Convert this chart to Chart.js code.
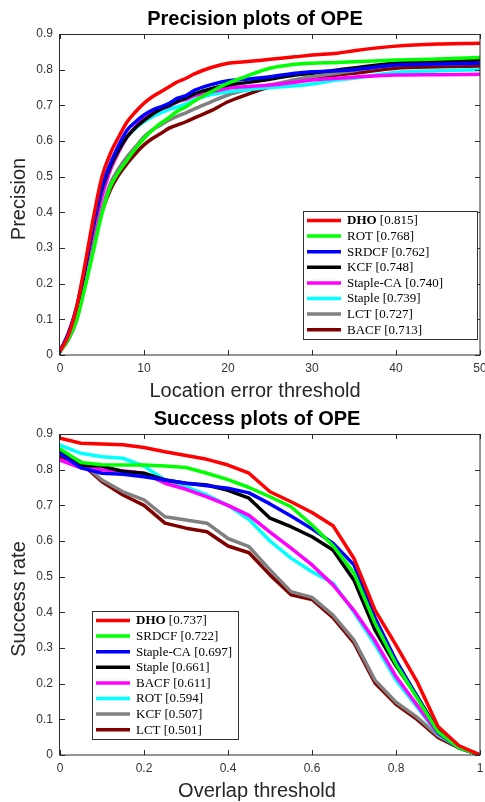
<!DOCTYPE html>
<html>
<head>
<meta charset="utf-8">
<script src="https://cdn.jsdelivr.net/npm/chart.js@4.4.1/dist/chart.umd.min.js"></script>
<style>
  html, body { margin: 0; padding: 0; background: #fff; }
  canvas { display: block; }
</style>
</head>
<body>
<canvas id="chartPrecision" width="485" height="400"></canvas>
<canvas id="chartSuccess" width="485" height="402"></canvas>
<script>
// ===============================
// DATA - precision plot
// ===============================
const precThresholds = [0, 1, 2, 3, 4, 5, 6, 7, 8, 9, 10, 11, 12, 13, 14, 15, 16, 18, 20, 22, 25, 28, 30, 33, 35, 40, 45, 50];
const precNames  = ["DHO", "ROT", "SRDCF", "KCF", "Staple-CA", "Staple", "LCT", "BACF"];
const precScores = ["0.815", "0.768", "0.762", "0.748", "0.740", "0.739", "0.727", "0.713"];

const precDHO      = [0.010, 0.056, 0.136, 0.257, 0.388, 0.500, 0.565, 0.612, 0.654, 0.682, 0.706, 0.724, 0.738, 0.752, 0.766, 0.776, 0.788, 0.806, 0.818, 0.822, 0.829, 0.836, 0.841, 0.846, 0.853, 0.866, 0.872, 0.874];
const precROT      = [0.010, 0.045, 0.100, 0.192, 0.294, 0.397, 0.472, 0.514, 0.547, 0.579, 0.607, 0.631, 0.650, 0.666, 0.684, 0.696, 0.712, 0.738, 0.762, 0.780, 0.804, 0.815, 0.818, 0.820, 0.822, 0.827, 0.830, 0.834];
const precSRDCF    = [0.010, 0.061, 0.136, 0.248, 0.369, 0.472, 0.537, 0.589, 0.631, 0.654, 0.673, 0.687, 0.696, 0.706, 0.720, 0.727, 0.742, 0.758, 0.769, 0.773, 0.780, 0.790, 0.794, 0.797, 0.800, 0.813, 0.816, 0.818];
const precKCF      = [0.010, 0.058, 0.130, 0.245, 0.365, 0.465, 0.528, 0.575, 0.612, 0.638, 0.658, 0.675, 0.690, 0.700, 0.712, 0.720, 0.732, 0.747, 0.757, 0.763, 0.773, 0.785, 0.790, 0.799, 0.805, 0.818, 0.823, 0.827];
const precStapleCA = [0.010, 0.060, 0.130, 0.240, 0.350, 0.444, 0.519, 0.570, 0.612, 0.640, 0.666, 0.679, 0.689, 0.698, 0.710, 0.717, 0.727, 0.738, 0.748, 0.752, 0.757, 0.765, 0.771, 0.776, 0.779, 0.785, 0.786, 0.787];
const precStaple   = [0.010, 0.061, 0.126, 0.238, 0.360, 0.463, 0.528, 0.579, 0.612, 0.636, 0.654, 0.668, 0.679, 0.689, 0.696, 0.704, 0.716, 0.730, 0.738, 0.743, 0.750, 0.755, 0.760, 0.771, 0.776, 0.792, 0.797, 0.800];
const precLCT      = [0.010, 0.042, 0.098, 0.201, 0.313, 0.407, 0.481, 0.523, 0.556, 0.584, 0.612, 0.631, 0.645, 0.659, 0.670, 0.679, 0.690, 0.710, 0.729, 0.742, 0.757, 0.772, 0.780, 0.790, 0.797, 0.813, 0.816, 0.818];
const precBACF     = [0.015, 0.051, 0.107, 0.206, 0.313, 0.402, 0.463, 0.505, 0.537, 0.565, 0.589, 0.607, 0.621, 0.636, 0.645, 0.654, 0.665, 0.685, 0.710, 0.728, 0.752, 0.768, 0.776, 0.785, 0.790, 0.804, 0.808, 0.810];
const precSeries = [precDHO, precROT, precSRDCF, precKCF, precStapleCA, precStaple, precLCT, precBACF];

// ===============================
// DATA - success plot
// ===============================
const succThresholds = [0, 0.05, 0.1, 0.15, 0.2, 0.25, 0.3, 0.35, 0.4, 0.45, 0.5, 0.55, 0.6, 0.65, 0.7, 0.75, 0.8, 0.85, 0.9, 0.95, 1];
const succNames  = ["DHO", "SRDCF", "Staple-CA", "Staple", "BACF", "ROT", "KCF", "LCT"];
const succScores = ["0.737", "0.722", "0.697", "0.661", "0.611", "0.594", "0.507", "0.501"];

const succDHO      = [0.888, 0.874, 0.872, 0.870, 0.862, 0.850, 0.840, 0.829, 0.813, 0.790, 0.738, 0.710, 0.680, 0.643, 0.551, 0.406, 0.308, 0.206, 0.080, 0.026, 0.0];
const succSRDCF    = [0.858, 0.820, 0.814, 0.813, 0.813, 0.810, 0.806, 0.790, 0.772, 0.750, 0.724, 0.696, 0.645, 0.587, 0.510, 0.370, 0.255, 0.160, 0.065, 0.020, 0.0];
const succStapleCA = [0.845, 0.805, 0.790, 0.787, 0.780, 0.771, 0.762, 0.755, 0.748, 0.735, 0.704, 0.670, 0.634, 0.594, 0.533, 0.385, 0.265, 0.165, 0.063, 0.020, 0.0];
const succStaple   = [0.852, 0.812, 0.810, 0.795, 0.790, 0.771, 0.762, 0.757, 0.742, 0.720, 0.664, 0.640, 0.612, 0.575, 0.490, 0.350, 0.250, 0.165, 0.068, 0.020, 0.0];
const succBACF     = [0.827, 0.805, 0.800, 0.797, 0.790, 0.762, 0.745, 0.724, 0.700, 0.672, 0.625, 0.580, 0.533, 0.477, 0.405, 0.320, 0.220, 0.140, 0.060, 0.022, 0.0];
const succROT      = [0.869, 0.846, 0.836, 0.832, 0.810, 0.771, 0.752, 0.729, 0.700, 0.660, 0.600, 0.552, 0.514, 0.482, 0.400, 0.310, 0.210, 0.135, 0.058, 0.020, 0.0];
const succKCF      = [0.852, 0.822, 0.771, 0.738, 0.715, 0.668, 0.659, 0.650, 0.607, 0.584, 0.519, 0.458, 0.442, 0.392, 0.322, 0.210, 0.148, 0.106, 0.054, 0.024, 0.0];
const succLCT      = [0.836, 0.818, 0.766, 0.729, 0.700, 0.650, 0.636, 0.626, 0.586, 0.567, 0.505, 0.449, 0.436, 0.385, 0.314, 0.202, 0.142, 0.100, 0.049, 0.020, 0.0];
const succSeries = [succDHO, succSRDCF, succStapleCA, succStaple, succBACF, succROT, succKCF, succLCT];

// ===============================
// STYLE
// ===============================
const trackerColors = {
  "DHO": "#ff0000",
  "ROT": "#00ff00",
  "SRDCF": "#0000ff",
  "KCF": "#000000",
  "Staple-CA": "#ff00ff",
  "Staple": "#00ffff",
  "LCT": "#808080",
  "BACF": "#800000"
};
const succColors = ["#ff0000", "#00ff00", "#0000ff", "#000000", "#ff00ff", "#00ffff", "#808080", "#800000"];

const SANS = '"Liberation Sans", Arial, Helvetica, sans-serif';
const SERIF = '"Liberation Serif", "Times New Roman", serif';
const AXIS_COLOR = "#2b2b2b";

// ===============================
// PLUGINS
// ===============================
// box around the plot + inward tick marks on all four sides
const framePlugin = {
  id: "frame",
  afterDatasetsDraw(chart) {
    const ctx = chart.ctx;
    const a = chart.chartArea;
    const xs = chart.scales.x, ys = chart.scales.y;
    const len = 5;
    ctx.save();
    ctx.strokeStyle = AXIS_COLOR;
    ctx.lineWidth = 1;
    ctx.strokeRect(Math.round(a.left) - 0.5, Math.round(a.top) + 0.5, Math.round(a.right - a.left) + 0.5, Math.round(a.bottom - a.top) - 0.5);
    ctx.beginPath();
    xs.ticks.forEach(t => {
      const px = Math.round(xs.getPixelForValue(t.value)) + 0.5;
      ctx.moveTo(px, a.bottom); ctx.lineTo(px, a.bottom - len);
      ctx.moveTo(px, a.top); ctx.lineTo(px, a.top + len);
    });
    ys.ticks.forEach(t => {
      const py = Math.round(ys.getPixelForValue(t.value)) + 0.5;
      ctx.moveTo(a.left, py); ctx.lineTo(a.left + len, py);
      ctx.moveTo(a.right, py); ctx.lineTo(a.right - len, py);
    });
    ctx.stroke();
    ctx.restore();
  }
};

// titles (the original is centered slightly left of the plot area)
const textPlugin = {
  id: "texts",
  afterDraw(chart, args, opts) {
    const ctx = chart.ctx;
    ctx.save();
    ctx.textAlign = "center";
    ctx.textBaseline = "alphabetic";
    ctx.fillStyle = "#000";
    ctx.font = "bold 20px " + SANS;
    ctx.fillText(opts.title, opts.centerX, 25);
    ctx.fillStyle = "#262626";
    ctx.font = "20px " + SANS;
    ctx.fillText(opts.xTitle, opts.centerX, 397);
    ctx.translate(25, 199);
    ctx.rotate(-Math.PI / 2);
    ctx.fillText(opts.yTitle, 0, 0);
    ctx.restore();
  }
};

// legend box inside the plot
const boxLegendPlugin = {
  id: "boxLegend",
  afterDraw(chart, args, opts) {
    const ctx = chart.ctx;
    const rowH = 15.6;
    ctx.save();
    ctx.fillStyle = "#fff";
    ctx.fillRect(opts.x, opts.y, opts.w, opts.h);
    ctx.strokeStyle = "#333";
    ctx.lineWidth = 1;
    ctx.strokeRect(opts.x + 0.5, opts.y + 0.5, opts.w, opts.h);
    chart.data.datasets.forEach((ds, i) => {
      const cy = opts.y + 9.5 + i * rowH;
      ctx.strokeStyle = ds.borderColor;
      ctx.lineWidth = 3.5;
      ctx.beginPath();
      ctx.moveTo(opts.x + 4, cy);
      ctx.lineTo(opts.x + 38, cy);
      ctx.stroke();
      ctx.fillStyle = "#000";
      ctx.textBaseline = "middle";
      ctx.textAlign = "left";
      let tx = opts.x + 44;
      if (i === 0) {
        ctx.font = "bold 13px " + SERIF;
        ctx.fillText(ds.label, tx, cy + 0.5);
        tx += ctx.measureText(ds.label).width;
        ctx.font = "13px " + SERIF;
        ctx.fillText(" [" + opts.scores[i] + "]", tx, cy + 0.5);
      } else {
        ctx.font = "13px " + SERIF;
        ctx.fillText(ds.label + " [" + opts.scores[i] + "]", tx, cy + 0.5);
      }
    });
    ctx.restore();
  }
};

// ===============================
// HELPERS
// ===============================
function fmtTick(v) {
  return String(Number(Number(v).toFixed(2)));
}

function buildDatasets(names, colors, series, xs, smooth) {
  return names.map((n, i) => ({
    label: n,
    data: xs.map((x, j) => ({ x: x, y: series[i][j] })),
    borderColor: colors[i],
    backgroundColor: colors[i],
    borderWidth: 3.5,
    pointRadius: 0,
    borderJoinStyle: "round",
    borderCapStyle: "round",
    cubicInterpolationMode: smooth ? "monotone" : "default",
    tension: 0
  }));
}

function axisOptions(max, step, height) {
  const tickFont = { family: SANS, size: 12 };
  return {
    x: {
      type: "linear", min: 0, max: max,
      ticks: { stepSize: step, padding: 6, color: "#333", font: tickFont, maxRotation: 0, callback: fmtTick },
      grid: { display: false, drawTicks: false },
      border: { display: false },
      afterFit(s) { s.height = height; s.paddingLeft = 0; s.paddingRight = 0; }
    },
    y: {
      type: "linear", min: 0, max: 0.9,
      ticks: { stepSize: 0.1, padding: 7, color: "#333", font: tickFont, callback: fmtTick },
      grid: { display: false, drawTicks: false },
      border: { display: false },
      afterFit(s) { s.width = 60; }
    }
  };
}

function makeChart(id, datasets, scales, texts, legendOpts) {
  return new Chart(document.getElementById(id), {
    type: "line",
    data: { datasets: datasets },
    options: {
      responsive: false,
      animation: false,
      layout: { padding: { top: 34, right: 5, bottom: 0, left: 0 } },
      scales: scales,
      plugins: {
        legend: { display: false },
        tooltip: { enabled: false },
        texts: texts,
        boxLegend: legendOpts
      }
    },
    plugins: [framePlugin, textPlugin, boxLegendPlugin]
  });
}

// ===============================
// CHARTS
// ===============================
makeChart(
  "chartPrecision",
  buildDatasets(precNames, precNames.map(n => trackerColors[n]), precSeries, precThresholds, true),
  axisOptions(50, 10, 45),
  { title: "Precision plots of OPE", xTitle: "Location error threshold", yTitle: "Precision", centerX: 255 },
  { x: 303, y: 211, w: 174, h: 128, scores: precScores }
);

makeChart(
  "chartSuccess",
  buildDatasets(succNames, succColors, succSeries, succThresholds, false),
  axisOptions(1, 0.2, 47),
  { title: "Success plots of OPE", xTitle: "Overlap threshold", yTitle: "Success rate", centerX: 257 },
  { x: 92, y: 211, w: 146, h: 128, scores: succScores }
);
</script>
</body>
</html>
